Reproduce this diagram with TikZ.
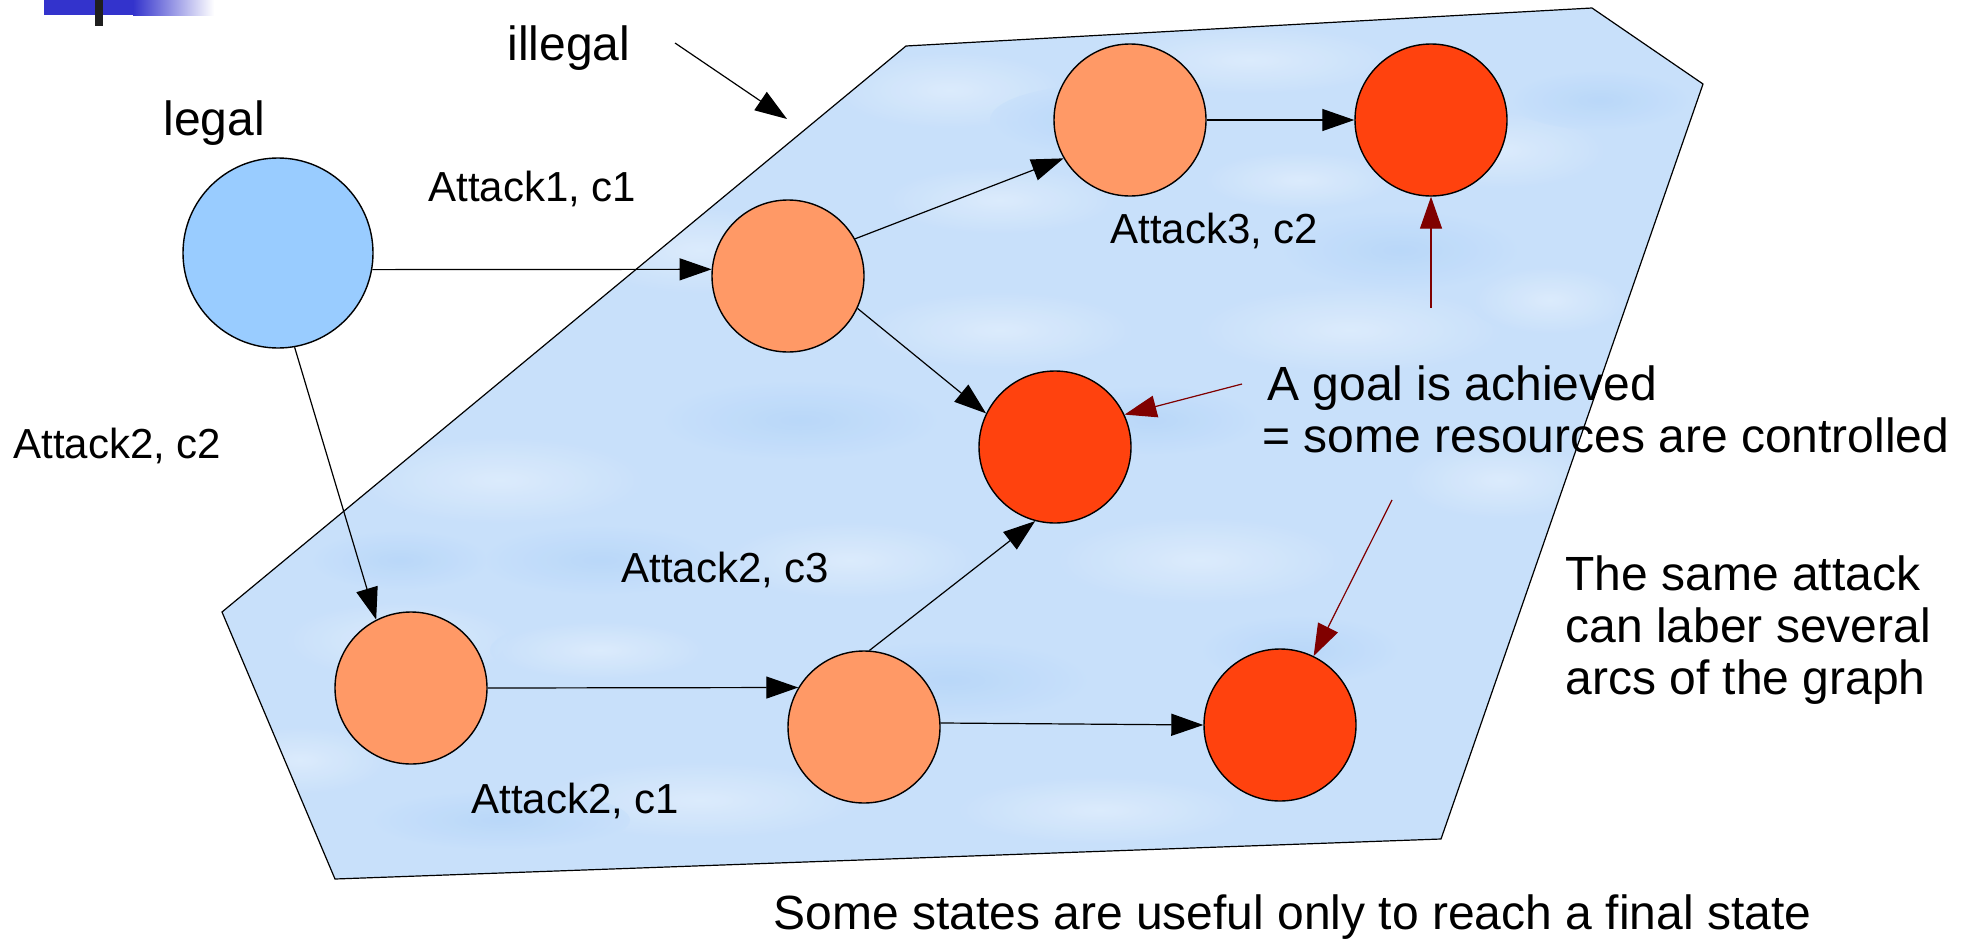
\documentclass[tikz,border=0pt]{standalone}
\usepackage{fontspec}
\setmainfont{Liberation Sans}
\usetikzlibrary{arrows.meta}
\definecolor{lblue}{HTML}{99CCFF}
\definecolor{orng}{HTML}{FF9966}
\definecolor{rred}{HTML}{FF420E}
\definecolor{sky}{HTML}{C8E0FA}
\definecolor{skylight}{HTML}{DFEDFD}
\definecolor{skydeep}{HTML}{B6D6F9}
\definecolor{dred}{HTML}{800000}
\definecolor{barblue}{HTML}{3333CC}
\begin{document}
\begin{tikzpicture}[x=0.5pt,y=-0.5pt,
  st/.style={circle,draw=black,line width=0.7pt,minimum size=76pt,inner sep=0pt},
  arr/.style={draw=black,line width=0.6pt,-{Triangle[length=16pt,width=11pt]}},
  ptr/.style={draw=dred,line width=0.6pt,-{Triangle[length=16pt,width=11pt]},fill=dred},
  lbl/.style={anchor=base west,inner sep=0pt,font=\fontsize{21}{25}\selectfont},
  big/.style={anchor=base west,inner sep=0pt,font=\fontsize{24}{28}\selectfont}]
\useasboundingbox (0,0) rectangle (1974,942);
\fill[white] (0,0) rectangle (1974,942);
% top-left bar
\fill[barblue] (44,0) rectangle (134,15);
\shade[left color=barblue,right color=white] (133,0) rectangle (214,15);
\fill[black!88] (95,0) rectangle (103,26);
% illegal region
\fill[sky] (906,46) -- (1592,8) -- (1703,84) -- (1441,839) -- (335,879) -- (222,612) -- cycle;
\begin{scope}
\clip (906,46) -- (1592,8) -- (1703,84) -- (1441,839) -- (335,879) -- (222,612) -- cycle;
\foreach \px/\py/\rx/\ry in {950/90/120/40, 1250/60/150/35, 1500/150/110/40, 700/250/130/45,
  1000/330/140/40, 1350/330/160/45, 500/480/150/45, 850/560/130/40, 1200/560/150/45,
  400/640/120/40, 700/800/170/40, 1100/810/150/35, 1500/480/100/40, 1000/200/120/35,
  300/760/90/35, 1550/300/80/35, 600/650/110/30, 1300/180/100/30}
  \shade[inner color=skylight,outer color=sky,opacity=0.85] (\px,\py) ellipse ({\rx} and {\ry});
\foreach \px/\py/\rx/\ry in {1100/120/110/35, 1400/250/120/40, 800/420/140/40, 1150/420/110/35,
  600/560/120/35, 950/680/140/40, 1300/650/100/35, 500/820/130/30, 1600/100/90/30, 400/560/90/30}
  \shade[inner color=skydeep,outer color=sky,opacity=0.8] (\px,\py) ellipse ({\rx} and {\ry});
\end{scope}
\draw[line width=0.6pt] (906,46) -- (1592,8) -- (1703,84) -- (1441,839) -- (335,879) -- (222,612) -- cycle;
% states
\node[st,fill=lblue,minimum size=95pt] (L) at (278,253) {};
\node[st,fill=orng] (A) at (788,276) {};
\node[st,fill=orng] (B) at (1130,120) {};
\node[st,fill=rred] (C) at (1431,120) {};
\node[st,fill=rred] (D) at (1055,447) {};
\node[st,fill=orng] (E) at (411,688) {};
\node[st,fill=orng] (F) at (864,727) {};
\node[st,fill=rred] (G) at (1280,725) {};
% transitions
\draw[arr] (L.-10) -- (A.175);
\draw[arr] (L.-80) -- (E.117);
\draw[arr] (A.29) -- (B.210);
\draw[arr] (A.-25) -- (D.154);
\draw[arr] (B.0) -- (C.180);
\draw[arr] (E.0) -- (F.149);
\draw[arr] (F.86) -- (D.-105);
\draw[arr] (F.3) -- (G.180);
% illegal pointer
\coordinate (il) at (675,43);
\coordinate (ilt) at (787,119);
\draw[arr] (il) -- (ilt);
% goal pointers
\coordinate (p1) at (1242,384);
\coordinate (p2) at (1431,308);
\coordinate (p3) at (1392,500);
\draw[ptr] (p1) -- (D.25);
\draw[ptr] (p2) -- (C.south);
\draw[ptr] (p3) -- (G.64);
% texts
\node[big] (legal) at (163,135) {legal};
\node[big] (illegal) at (507,60) {illegal};
\node[lbl] (t1) at (428,201) {Attack1, c1};
\node[lbl] (t2) at (13,458) {Attack2, c2};
\node[lbl] (t3) at (1110,243) {Attack3, c2};
\node[lbl] (t4) at (621,582) {Attack2, c3};
\node[lbl] (t5) at (471,813) {Attack2, c1};
\node[big] (g1) at (1267,400) {A goal is achieved};
\node[big] (g2) at (1262,452) {= some resources are controlled};
\node[big] (s1) at (1565,590) {The same attack};
\node[big] (s2) at (1565,642) {can laber several};
\node[big] (s3) at (1565,694) {arcs of the graph};
\node[big] (u) at (773,929) {Some states are useful only to reach a final state};
\end{tikzpicture}
\end{document}
